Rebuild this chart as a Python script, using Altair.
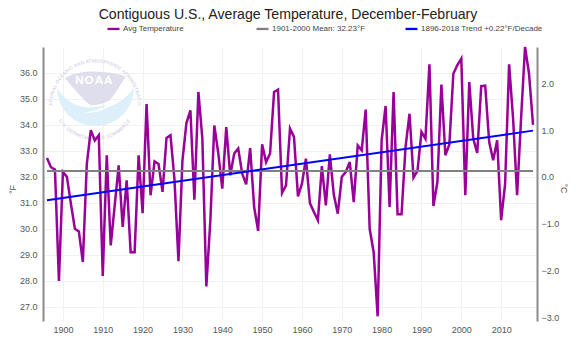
import urllib.parse
import altair as alt
import pandas as pd

TITLE = "Contiguous U.S., Average Temperature, December-February"
SERIES = ["Avg Temperature", "1901-2000 Mean: 32.23°F", "1896-2018 Trend +0.22°F/Decade"]
COLORS = ["#990099", "#808080", "#0000ff"]
YEARS = list(range(1896, 2019))
TEMPS = [
    32.73, 32.37, 32.28, 27.99, 32.19, 32.00, 30.97, 30.00, 29.90, 28.72,
    32.50, 33.80, 33.40, 33.60, 28.18, 32.83, 29.36, 30.90, 32.44, 30.07,
    31.87, 29.10, 29.10, 32.83, 30.60, 34.80, 31.29, 32.60, 32.50, 31.42,
    33.50, 33.60, 31.90, 28.75, 32.63, 34.07, 34.56, 31.12, 35.27, 33.47,
    27.78, 30.30, 33.98, 32.90, 31.55, 33.92, 32.06, 32.90, 33.09, 32.12,
    31.71, 33.11, 30.84, 29.92, 33.25, 32.57, 32.90, 35.27, 35.36, 31.38,
    31.67, 33.86, 33.54, 31.25, 31.74, 32.70, 30.99, 30.65, 30.33, 32.41,
    30.90, 32.87, 31.31, 30.58, 32.00, 32.19, 32.57, 31.03, 33.21, 33.02,
    34.59, 30.00, 29.10, 26.63, 33.41, 34.73, 30.84, 35.27, 30.56, 30.56,
    33.15, 34.43, 31.97, 32.23, 33.73, 33.47, 36.33, 30.88, 31.80, 35.55,
    32.83, 33.25, 35.97, 36.30, 36.55, 31.29, 35.65, 33.47, 32.92, 35.49,
    35.51, 33.34, 32.64, 33.41, 30.33, 31.74, 36.33, 34.24, 31.29, 34.24,
    37.00, 35.97, 34.00,
]
MEAN_YEARS = [1896, 2018]
MEAN_VALUES = [32.23, 32.23]
TREND_YEARS = [1896, 2018]
TREND_VALUES = [31.10, 33.78]
X_TICKS = list(range(1900, 2011, 10))
F_TICKS = list(range(27, 37))
C_TICKS = [-3, -2, -1, 0, 1, 2]
F_DOMAIN = [26.45, 37.0]
C_DOMAIN = [(26.45 - 32) / 1.8, (37.0 - 32) / 1.8]

LOGO = """<svg xmlns="http://www.w3.org/2000/svg" width="100" height="100" viewBox="0 0 300 300">
<defs>
<path id="t" d="M 22 165 A 128 128 0 1 1 278 165"/>
<path id="b" d="M 26 178 A 128 128 0 0 0 272 178"/>
</defs>
<path d="M 36 113 C 55 145 85 168 125 172 C 140 173 160 170 185 165 C 170 176 150 182 115 190 C 135 190 165 186 190 172 C 220 160 250 140 267 113 A 115 115 0 1 1 36 113 Z" fill="#d9eefa" fill-opacity="0.9"/>
<path d="M 60 84 C 85 68 125 64 155 65 C 190 66 220 70 242 80 C 225 105 212 130 195 150 C 175 162 155 166 136 166 C 115 150 85 115 60 84 Z" fill="#dbdaea" fill-opacity="0.9"/>
<text x="148" y="103" text-anchor="middle" font-family="Liberation Sans" font-weight="bold" font-size="35" letter-spacing="3" fill="#ffffff">NOAA</text>
<text font-family="Liberation Sans" font-size="14" fill="#c4c6da" letter-spacing="0.7"><textPath href="#t" startOffset="50%" text-anchor="middle">NATIONAL OCEANIC AND ATMOSPHERIC ADMINISTRATION</textPath></text>
<text font-family="Liberation Sans" font-size="14" fill="#c4c6da" letter-spacing="0.7"><textPath href="#b" startOffset="50%" text-anchor="middle">U.S. DEPARTMENT OF COMMERCE</textPath></text>
</svg>"""
LOGO_URL = "data:image/svg+xml," + urllib.parse.quote(LOGO)

FONT = "Liberation Sans"
X = alt.X(
    "year:Q",
    scale=alt.Scale(domain=[1895, 2019], nice=False, zero=False),
    axis=alt.Axis(
        title=None, values=X_TICKS, format="d", grid=True, gridColor="#f1f1f1", gridWidth=1,
        domain=False, ticks=False, labelColor="#555555", labelFontSize=9, labelFont=FONT,
        labelPadding=4, labelFlush=False,
    ),
)
Y_F = alt.Y(
    "value:Q",
    scale=alt.Scale(domain=F_DOMAIN, nice=False, zero=False),
    axis=alt.Axis(
        title="°F", titleX=-31, titleY=142, titleFontSize=9, titleFontWeight="normal",
        titleColor="#555555", titleFont=FONT, titleAlign="center", titleBaseline="middle",
        values=F_TICKS, format=".1f", grid=True, gridColor="#f1f1f1", gridWidth=1,
        domain=True, domainColor="#8c8c8c", domainWidth=2, ticks=False,
        labelColor="#555555", labelFontSize=9, labelFont=FONT, labelPadding=6,
    ),
)
Y_C = alt.Y(
    "celsius:Q",
    scale=alt.Scale(domain=C_DOMAIN, nice=False, zero=False),
    axis=alt.Axis(
        orient="right", title="°C", titleX=26, titleY=141, titleAngle=90, titleFontSize=9,
        titleFontWeight="normal", titleColor="#555555", titleFont=FONT, titleAlign="center",
        titleBaseline="middle", values=C_TICKS, format=".1f", grid=False,
        domain=True, domainColor="#8c8c8c", domainWidth=2, ticks=False,
        labelColor="#555555", labelFontSize=9, labelFont=FONT, labelPadding=4,
    ),
)
COLOR = alt.Color(
    "series:N",
    scale=alt.Scale(domain=SERIES, range=COLORS),
    sort=SERIES,
    legend=alt.Legend(
        title=None, orient="none", legendX=63, legendY=-26, direction="horizontal", columns=3,
        gridAlign="all", columnPadding=6, symbolType="stroke", symbolSize=144,
        symbolStrokeWidth=2.3, labelFontSize=8, labelFont=FONT, labelColor="#444444",
        labelOffset=2, padding=0,
    ),
)

temps = pd.DataFrame({"year": YEARS, "value": TEMPS, "series": SERIES[0]})
temps["celsius"] = (temps["value"] - 32) / 1.8
mean = pd.DataFrame({"year": MEAN_YEARS, "value": MEAN_VALUES, "series": SERIES[1]})
trend = pd.DataFrame({"year": TREND_YEARS, "value": TREND_VALUES, "series": SERIES[2]})

logo = alt.Chart(pd.DataFrame({"u": [LOGO_URL]})).mark_image(width=100, height=100).encode(
    x=alt.value(52), y=alt.value(53), url="u:N"
)
f_layer = alt.layer(
    logo,
    alt.Chart(temps).mark_line(strokeWidth=2.5, strokeJoin="miter").encode(x=X, y=Y_F, color=COLOR),
    alt.Chart(mean).mark_line(strokeWidth=2).encode(x=X, y=Y_F, color=COLOR),
    alt.Chart(trend).mark_line(strokeWidth=2).encode(x=X, y=Y_F, color=COLOR),
)
c_layer = alt.Chart(temps).mark_line(opacity=0).encode(x=X, y=Y_C)

chart = (
    alt.layer(f_layer, c_layer)
    .resolve_scale(y="independent")
    .properties(
        width=494,
        height=274,
        autosize=alt.AutoSizeParams(type="none"),
        padding={"left": 35, "top": 39, "right": 31, "bottom": 25},
        title=alt.TitleParams(
            TITLE, font=FONT, fontSize=14.1, fontWeight="normal", color="#222222",
            anchor="middle", offset=-1, dx=-2,
        ),
    )
    .configure_view(stroke=None)
)
chart.save("out.html", embed_options={"renderer": "svg", "actions": False})
